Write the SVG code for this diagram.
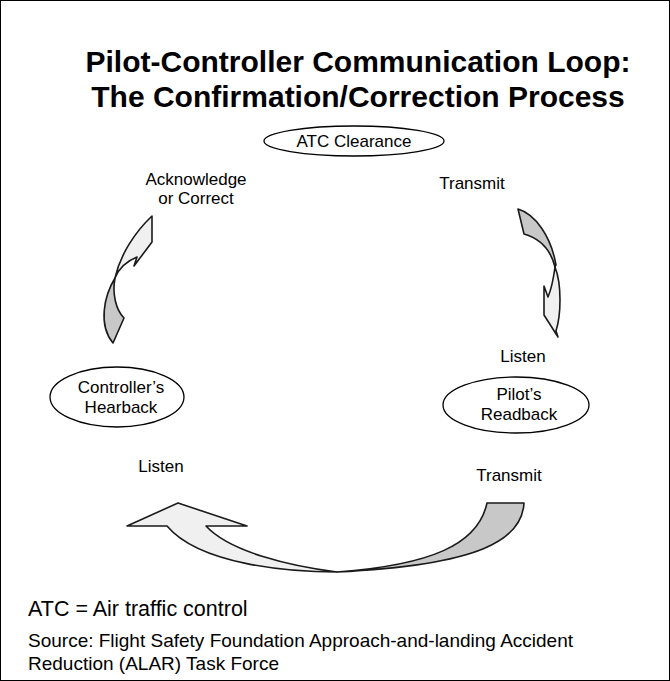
<svg xmlns="http://www.w3.org/2000/svg" width="670" height="681" viewBox="0 0 670 681">
<style>
text{font-family:"Liberation Sans",Arial,sans-serif;fill:#000}
.t{font-size:30px;font-weight:bold;text-anchor:middle}
.l{font-size:17px;text-anchor:middle}
.n{fill:#fff;stroke:#000;stroke-width:1.3}
.g{fill:#c8c8c8;stroke:#1a1a1a;stroke-width:1.6;stroke-linejoin:round}
.w{fill:#f0f0f0;stroke:#1a1a1a;stroke-width:1.6;stroke-linejoin:round}
</style>
<rect x="0.5" y="0.5" width="669" height="680" fill="#fff" stroke="#000" stroke-width="1"/>
<text class="t" x="358" y="72">Pilot-Controller Communication Loop:</text>
<text class="t" x="358" y="107">The Confirmation/Correction Process</text>

<g id="connectors">
  <g id="arrow-transmit">
    <path class="g" d="M518,209 C535,214 551,236 556,265 L555,267 C552,255 545,240 524,234 Z"/>
    <path class="w" d="M555,267 C562,285 561,315 556,331 L558,337 L544,315 L544,286 L548,297 C551,290 553,282 555,267 Z"/>
  </g>
  <g id="arrow-readback">
    <path class="g" d="M487,503 L524,503 C522,540 480,565 337,572 C430,565 478,545 487,503 Z"/>
    <path class="w" d="M337,572 C290,572 200,565 167,526 L127,526 L178,503 L247,526 L206,526 C230,552 290,566 337,572 Z"/>
  </g>
  <g id="arrow-hearback">
    <path class="g" d="M115,278 C104,296 98,325 113,343 L124,318 C116,310 112,294 115,278 Z"/>
    <path class="w" d="M115,278 C120,255 135,232 152,216 L152,242 L134,266 L137,257 C127,261 119,268 115,278 Z"/>
  </g>
</g>

<g id="node-atc-clearance">
  <ellipse class="n" cx="354" cy="141" rx="90" ry="15"/>
  <text class="l" x="354" y="147">ATC Clearance</text>
</g>
<g id="node-pilot-readback">
  <ellipse class="n" cx="516" cy="405" rx="73" ry="28"/>
  <text class="l" x="519" y="400">Pilot’s</text>
  <text class="l" x="519" y="420">Readback</text>
</g>
<g id="node-controller-hearback">
  <ellipse class="n" cx="117" cy="397" rx="67" ry="30"/>
  <text class="l" x="121" y="393">Controller’s</text>
  <text class="l" x="121" y="413">Hearback</text>
</g>

<g id="labels">
  <text class="l" x="196" y="185">Acknowledge</text>
  <text class="l" x="196" y="204">or Correct</text>
  <text class="l" x="472" y="189">Transmit</text>
  <text class="l" x="523" y="362">Listen</text>
  <text class="l" x="161" y="472">Listen</text>
  <text class="l" x="509" y="481">Transmit</text>
</g>

<text x="28" y="616" style="font-size:21.5px">ATC = Air traffic control</text>
<text x="28" y="647" style="font-size:19px">Source: Flight Safety Foundation Approach-and-landing Accident</text>
<text x="28" y="670" style="font-size:19px">Reduction (ALAR) Task Force</text>
</svg>
